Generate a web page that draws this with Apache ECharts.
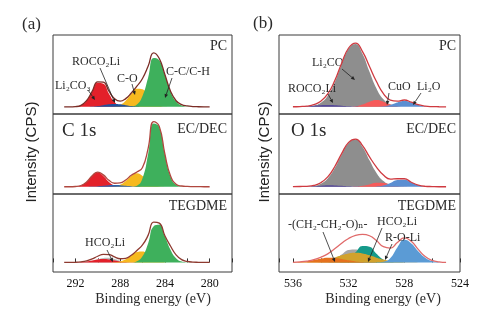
<!DOCTYPE html>
<html>
<head>
<meta charset="utf-8">
<script src="https://cdn.jsdelivr.net/npm/echarts@6/dist/echarts.min.js"></script>
<style>
html, body { margin: 0; padding: 0; background: #fff; }
#chart { width: 490px; height: 315px; }
</style>
</head>
<body>
<div id="chart"></div>
<script>
// binding energy samples (eV), 0.5 eV apart
const energyC = [293, 292.5, 292, 291.5, 291, 290.5, 290, 289.5, 289, 288.5, 288, 287.5, 287, 286.5, 286, 285.5, 285, 284.5, 284, 283.5, 283, 282.5, 282, 281.5, 281, 280.5, 280]
const energyO = [536, 535.5, 535, 534.5, 534, 533.5, 533, 532.5, 532, 531.5, 531, 530.5, 530, 529.5, 529, 528.5, 528, 527.5, 527, 526.5, 526, 525.5, 525]
const tickLabelsC = [292, 288, 284, 280]
const tickLabelsO = [536, 532, 528, 524]

// C 1s, PC
const cPcLi2co3 = [0, 0, 0.3, 2.1, 8.4, 21, 33.5, 32, 18.2, 6.7, 1.5, 0.2, 0, 0, 0, 0, 0, 0, 0, 0, 0, 0, 0, 0, 0, 0, 0]
const cPcRoco2li = [0, 0, 0, 0, 0.1, 0.4, 1.1, 2.3, 3.5, 4, 3.5, 2.3, 1.1, 0.4, 0.1, 0, 0, 0, 0, 0, 0, 0, 0, 0, 0, 0, 0]
const cPcCo = [0, 0, 0, 0, 0, 0, 0, 0, 0, 0.6, 2.8, 8.6, 17.8, 25.2, 24.3, 15.9, 7.1, 2.2, 0.4, 0.1, 0, 0, 0, 0, 0, 0, 0]
const cPcCc = [0, 0, 0, 0, 0, 0, 0, 0, 0, 0, 0, 0, 0.4, 3.1, 15.1, 40.5, 68, 65, 44.5, 21.5, 7.3, 1.8, 0.3, 0, 0, 0, 0]
const cPcEnv = [0, 0, 0.3, 2.1, 8.5, 21.4, 34.6, 34.3, 21.7, 11.3, 7.8, 11.4, 19.3, 28.7, 39.5, 56.4, 75.1, 67.2, 44.9, 22, 8.5, 3, 1.2, 0.4, 0.1, 0, 0]

// C 1s, EC/DEC
const cEcLi2co3 = [0, 0, 0.2, 1.7, 6.6, 14.9, 19.5, 14.9, 6.6, 1.7, 0.2, 0, 0, 0, 0, 0, 0, 0, 0, 0, 0, 0, 0, 0, 0, 0, 0]
const cEcRoco2li = [0, 0, 0, 0, 0, 0.2, 0.7, 1.4, 2.2, 2.5, 2.2, 1.4, 0.7, 0.2, 0, 0, 0, 0, 0, 0, 0, 0, 0, 0, 0, 0, 0]
const cEcCo = [0, 0, 0, 0, 0, 0, 0, 0, 0.1, 0.6, 2.7, 7.9, 14.9, 18.5, 14.9, 7.9, 2.7, 0.6, 0.1, 0, 0, 0, 0, 0, 0, 0, 0]
const cEcCc = [0, 0, 0, 0, 0, 0, 0, 0, 0, 0, 0, 0, 0.1, 1.5, 11.6, 44.5, 87, 82, 44.5, 14.2, 2.7, 0.3, 0, 0, 0, 0, 0]
const cEcEnv = [0, 0, 0.3, 1.7, 6.6, 15.1, 20.2, 16.3, 8.9, 4.8, 5.2, 9.3, 15.7, 20.2, 26.5, 52.4, 89.5, 83, 45, 15, 3.5, 1, 0.4, 0.2, 0.1, 0, 0]

// C 1s, TEGDME
const cTgLi2co3 = [0, 0, 0.1, 0.5, 1.4, 2.8, 4.4, 5, 4.4, 2.8, 1.4, 0.5, 0.1, 0, 0, 0, 0, 0, 0, 0, 0, 0, 0, 0, 0, 0, 0]
const cTgHco2li = [0, 0, 0, 0.2, 0.8, 2.2, 4.5, 6.6, 6.8, 5, 2.6, 1, 0.3, 0, 0, 0, 0, 0, 0, 0, 0, 0, 0, 0, 0, 0, 0]
const cTgCo = [0, 0, 0, 0, 0, 0, 0, 0, 0, 0.3, 1.4, 4.5, 10.1, 15.4, 16, 11.3, 5.5, 1.8, 0.4, 0, 0, 0, 0, 0, 0, 0, 0]
const cTgCc = [0, 0, 0, 0, 0, 0, 0, 0, 0, 0, 0, 0, 0, 1.7, 8.9, 27.8, 53, 55, 38.1, 18.4, 6, 1.3, 0.2, 0, 0, 0, 0]
const cTgEnv = [0, 0.1, 0.2, 0.8, 2.3, 5.2, 9, 11.8, 11.5, 8.1, 5.4, 6, 10.5, 17.5, 25.5, 39.5, 59, 57.5, 39, 24, 11, 4, 1.5, 0.5, 0.2, 0, 0]

// O 1s, PC
const oPcLi2co3 = [0, 0, 0.3, 1.5, 5.5, 15.4, 34, 59.2, 81, 87.5, 73.6, 48.8, 25.6, 10.5, 3.4, 0.9, 0.1, 0, 0, 0, 0, 0, 0]
const oPcRoco2li = [0.1, 0.4, 0.8, 1.5, 2.2, 2.5, 2.2, 1.5, 0.8, 0.4, 0.1, 0, 0, 0, 0, 0, 0, 0, 0, 0, 0, 0, 0]
const oPcCuo = [0, 0, 0, 0, 0, 0, 0, 0, 0.1, 0.8, 3.2, 7.2, 9.5, 7.2, 3.2, 0.8, 0.1, 0, 0, 0, 0, 0, 0]
const oPcLi2o = [0, 0, 0, 0, 0, 0, 0, 0, 0, 0, 0, 0, 0.1, 0.7, 2.7, 6.1, 8, 6.1, 2.7, 0.7, 0.1, 0, 0]
const oPcEnv = [0.1, 0.4, 1.1, 3, 7.7, 17.9, 36.2, 60.7, 81.9, 88.7, 76.9, 56, 35.2, 18.4, 9.3, 7.8, 9.5, 6.5, 3, 1, 0.3, 0.1, 0]

// O 1s, EC/DEC
const oEcLi2co3 = [0, 0, 0.2, 1.1, 4.1, 11.4, 25.3, 44, 60.2, 65, 54.7, 36.3, 19, 7.8, 2.5, 0.6, 0.1, 0, 0, 0, 0, 0, 0]
const oEcRoco2li = [0, 0, 0.2, 0.6, 1.3, 1.9, 1.8, 1.2, 0.5, 0.2, 0, 0, 0, 0, 0, 0, 0, 0, 0, 0, 0, 0, 0]
const oEcCuo = [0, 0, 0, 0, 0, 0, 0, 0, 0, 0.2, 1.2, 3.2, 5.3, 5, 2.8, 0.9, 0.2, 0, 0, 0, 0, 0, 0]
const oEcLi2o = [0, 0, 0, 0, 0, 0, 0, 0, 0, 0, 0, 0, 0.3, 1.6, 5, 9.1, 9.6, 5.9, 2.1, 0.4, 0, 0, 0]
const oEcEnv = [0.1, 0.3, 0.6, 1.8, 5.5, 13.5, 27.5, 45.5, 61, 65.5, 56.5, 41, 27, 16, 10.5, 11, 11, 6.2, 2.3, 0.6, 0.2, 0, 0]

// O 1s, TEGDME
const oTgPeo = [0.2, 0.7, 1.7, 3.4, 5.4, 6.8, 6.6, 5.1, 3.1, 1.5, 0.6, 0.1, 0, 0, 0, 0, 0, 0, 0, 0, 0, 0, 0]
const oTgGray = [0, 0, 0, 0, 0.3, 1.2, 4.6, 11.4, 18.2, 19, 13, 5.8, 1.7, 0.3, 0, 0, 0, 0, 0, 0, 0, 0, 0]
const oTgHco2li = [0, 0.1, 0.3, 0.9, 2, 4.1, 7, 10.3, 13, 14, 13, 10.3, 7, 4.1, 2, 0.9, 0.3, 0.1, 0, 0, 0, 0, 0]
const oTgRoli = [0, 0, 0, 0, 0, 0, 0.1, 1.1, 5.2, 14.7, 24, 22.8, 12.5, 4, 0.8, 0.1, 0, 0, 0, 0, 0, 0, 0]
const oTgLi2o = [0, 0, 0, 0, 0, 0, 0, 0, 0, 0, 0, 0, 0, 0.8, 6.4, 21.9, 33, 27.8, 16.5, 7, 2.1, 0.4, 0]
const oTgEnv = [0, 0.8, 2, 4, 7.5, 12.5, 20, 28, 35, 39.5, 41, 39, 32, 23, 21, 29, 36, 31, 19, 8.5, 3, 0.8, 0]

const SERIF = '"Liberation Serif", "DejaVu Serif", serif'
const SANS = '"Liberation Sans", Arial, sans-serif'

const chart = echarts.init(document.getElementById('chart'), null, { renderer: 'canvas' })

function pairs(xs, ys) {
  return xs.map((x, i) => [x, ys[i]])
}

function fill(idx, xs, ys, color) {
  return {
    type: 'line', xAxisIndex: idx, yAxisIndex: idx,
    data: pairs(xs, ys), smooth: 0.5, showSymbol: false, silent: true,
    lineStyle: { width: 0 }, itemStyle: { color },
    areaStyle: { color, opacity: 1 }
  }
}

function envelope(idx, xs, ys, color) {
  return {
    type: 'line', xAxisIndex: idx, yAxisIndex: idx,
    data: pairs(xs, ys), smooth: 0.5, showSymbol: false, silent: true,
    lineStyle: { width: 1.3, color }, itemStyle: { color }
  }
}

const gridBox = { show: true, borderColor: '#3a3a3a', borderWidth: 1, backgroundColor: 'transparent' }
const grids = [
  { left: 53, top: 35, width: 179, height: 79 },
  { left: 53, top: 114, width: 179, height: 80 },
  { left: 53, top: 194, width: 179, height: 78 },
  { left: 279, top: 35, width: 181, height: 79 },
  { left: 279, top: 114, width: 181, height: 80 },
  { left: 279, top: 194, width: 181, height: 78 }
].map((g) => Object.assign({}, gridBox, g))

function xAxis(idx, min, max, labels) {
  const bottom = idx === 2 || idx === 5
  return {
    gridIndex: idx, type: 'value', inverse: true, min, max, interval: 2,
    show: bottom,
    axisLine: { show: false },
    axisTick: { show: bottom, inside: true, length: 4, lineStyle: { color: '#333', width: 1 } },
    axisLabel: {
      show: bottom, margin: 6, color: '#111', fontSize: 12, fontFamily: SERIF,
      formatter: (v) => (labels.includes(v) ? String(v) : '')
    },
    splitLine: { show: false }
  }
}

function yAxis(idx) {
  const bottom = idx === 2 || idx === 5
  return { gridIndex: idx, type: 'value', min: bottom ? -14 : -10, max: 100, show: false }
}

function text(x, y, str, size, align, z) {
  return {
    type: 'text', x, y, z: z || 100,
    style: {
      text: str, font: size + 'px ' + SERIF, fill: '#2a2a2a',
      textAlign: align || 'left', align: align || 'left',
      textVerticalAlign: 'middle', verticalAlign: 'middle'
    }
  }
}

function vtext(x, y, str) {
  return {
    type: 'text', x, y, rotation: Math.PI / 2, z: 100,
    style: {
      text: str, font: '15px ' + SANS, fill: '#222',
      textAlign: 'center', align: 'center', textVerticalAlign: 'middle', verticalAlign: 'middle'
    }
  }
}

function arrow(x1, y1, x2, y2) {
  const a = Math.atan2(y2 - y1, x2 - x1)
  const bx = x2 - 4 * Math.cos(a)
  const by = y2 - 4 * Math.sin(a)
  const w = 1.8
  return [
    { type: 'line', z: 100, shape: { x1, y1, x2: bx, y2: by }, style: { stroke: '#222', lineWidth: 0.8 } },
    {
      type: 'polygon', z: 100,
      shape: { points: [[x2, y2], [bx + w * Math.sin(a), by - w * Math.cos(a)], [bx - w * Math.sin(a), by + w * Math.cos(a)]] },
      style: { fill: '#222' }
    }
  ]
}

const envO = '#cf3a40'

const series = [
  // C 1s
  fill(0, energyC, cPcLi2co3, '#e3202a'),
  fill(0, energyC, cPcCo, '#f6b91f'),
  fill(0, energyC, cPcCc, '#3eb05c'),
  fill(0, energyC, cPcRoco2li, '#1f4f9c'),
  envelope(0, energyC, cPcEnv, '#7b2d26'),

  fill(1, energyC, cEcLi2co3, '#e3202a'),
  fill(1, energyC, cEcCo, '#f6b91f'),
  fill(1, energyC, cEcCc, '#3eb05c'),
  fill(1, energyC, cEcRoco2li, '#2a62b0'),
  envelope(1, energyC, cEcEnv, '#b0473f'),

  fill(2, energyC, cTgHco2li, '#bdbdbd'),
  fill(2, energyC, cTgLi2co3, '#e3202a'),
  fill(2, energyC, cTgCo, '#f6b91f'),
  fill(2, energyC, cTgCc, '#3eb05c'),
  envelope(2, energyC, cTgEnv, '#8e3a30'),

  // O 1s
  fill(3, energyO, oPcLi2co3, '#8e8e8e'),
  fill(3, energyO, oPcCuo, '#f65a5a'),
  fill(3, energyO, oPcLi2o, '#5b8fd2'),
  fill(3, energyO, oPcRoco2li, '#55479a'),
  envelope(3, energyO, oPcEnv, envO),

  fill(4, energyO, oEcLi2co3, '#8e8e8e'),
  fill(4, energyO, oEcCuo, '#f65a5a'),
  fill(4, energyO, oEcLi2o, '#5b8fd2'),
  fill(4, energyO, oEcRoco2li, '#55479a'),
  envelope(4, energyO, oEcEnv, envO),

  fill(5, energyO, oTgGray, '#a6a6a6'),
  fill(5, energyO, oTgRoli, '#169a8a'),
  fill(5, energyO, oTgHco2li, '#d1a22c'),
  fill(5, energyO, oTgPeo, '#e5711e'),
  fill(5, energyO, oTgLi2o, '#5b9bd5'),
  envelope(5, energyO, oTgEnv, '#e06a6a')
]

const graphic = [
  text(22, 25, '(a)', 17),
  text(253, 24, '(b)', 17),
  vtext(32, 152, 'Intensity (CPS)'),
  vtext(265, 152, 'Intensity (CPS)'),
  text(153, 299, 'Binding energy (eV)', 14, 'center'),
  text(383, 299, 'Binding energy (eV)', 14, 'center'),

  text(227, 46, 'PC', 14, 'right'),
  text(227, 129, 'EC/DEC', 14, 'right'),
  text(227, 206, 'TEGDME', 14, 'right'),
  text(456, 46, 'PC', 14, 'right'),
  text(456, 129, 'EC/DEC', 14, 'right'),
  text(456, 206, 'TEGDME', 14, 'right'),
  text(62, 131, 'C 1s', 19),
  text(291, 131, 'O 1s', 19),

  // C 1s peak labels
  text(55, 86, 'Li₂CO₃', 12),
  text(72, 62, 'ROCO₂Li', 12),
  text(117, 79, 'C-O', 12),
  text(166, 72, 'C-C/C-H', 12),
  text(85, 243, 'HCO₂Li', 12),
  ...arrow(88, 90, 95, 100),
  ...arrow(100, 68, 115, 103),
  ...arrow(132, 84, 135, 95),
  ...arrow(172, 78, 165, 98),
  ...arrow(107, 250, 113, 262),

  // O 1s peak labels (Li2CO3 sits under the grey peak, as in the figure)
  text(312, 63, 'Li₂CO₃', 12, 'left', 1),
  text(288, 89, 'ROCO₂Li', 12),
  text(388, 87, 'CuO', 12),
  text(417, 87, 'Li₂O', 12),
  text(288, 225, '-(CH₂-CH₂-O)ₙ-', 12),
  text(377, 222, 'HCO₂Li', 12),
  text(385, 238, 'R-O-Li', 12),
  ...arrow(342, 69, 355, 80),
  ...arrow(328, 94, 333, 103),
  ...arrow(389, 93, 387, 105),
  ...arrow(421, 93, 413, 105),
  ...arrow(323, 232, 335, 262),
  ...arrow(382, 228, 368, 262),
  ...arrow(392, 244, 385, 260)
]

chart.setOption({
  animation: false,
  backgroundColor: '#fff',
  grid: grids,
  xAxis: [0, 1, 2].map((i) => xAxis(i, 278, 294, tickLabelsC)).concat([3, 4, 5].map((i) => xAxis(i, 524, 537, tickLabelsO))),
  yAxis: [0, 1, 2, 3, 4, 5].map(yAxis),
  series,
  graphic
})
</script>
</body>
</html>
